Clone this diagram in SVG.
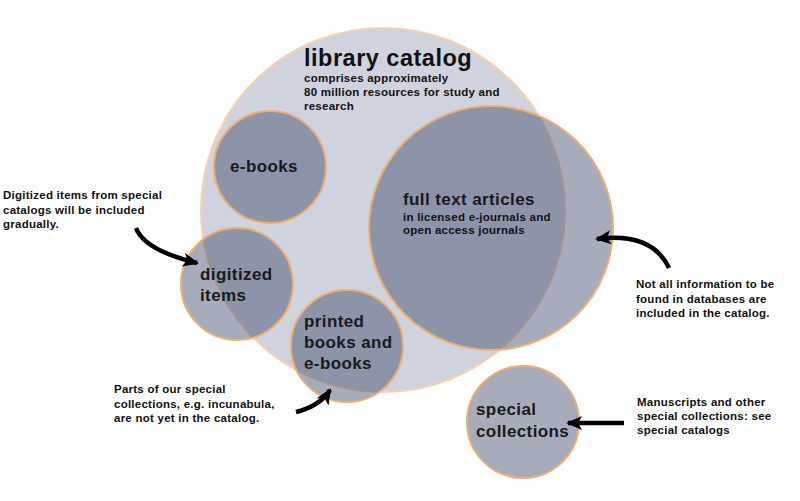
<svg xmlns="http://www.w3.org/2000/svg" width="800" height="501" viewBox="0 0 800 501">
<defs>
<style>
.big{fill:#d0d3dd;stroke:#f6d2ae;stroke-width:2}
.sub{fill:#3c4768;fill-opacity:0.45;stroke:#eeae72;stroke-width:2}
.t{font-family:"Liberation Sans",Arial,sans-serif;fill:#111}
.lab{font-size:17px;font-weight:bold;fill:#1a1a1a;letter-spacing:0.4px}
.note{font-size:11.5px;font-weight:bold;letter-spacing:0.25px}
.arr{fill:none;stroke:#000;stroke-width:4.5;stroke-linecap:butt;marker-end:url(#ah)}
</style>
<marker id="ah" markerUnits="userSpaceOnUse" markerWidth="16" markerHeight="14" refX="14" refY="7" orient="auto">
<path d="M0,0 L16,7 L0,14 L4,7 Z" fill="#000"/>
</marker>
</defs>
<rect width="800" height="501" fill="#fff"/>
<g id="library-catalog">
<circle class="big" cx="383" cy="210" r="182"/>
<text class="t" x="304" y="66" font-size="23.5" font-weight="bold" letter-spacing="0.5">library catalog</text>
<text class="t note" x="304" y="82">comprises approximately</text>
<text class="t note" x="304" y="96">80 million resources for study and</text>
<text class="t note" x="304" y="110">research</text>
</g>
<g id="e-books">
<circle class="sub" cx="270" cy="167" r="56"/>
<text class="t lab" x="230" y="172">e-books</text>
</g>
<g id="full-text-articles">
<circle class="sub" cx="491" cy="228" r="122"/>
<text class="t lab" x="403" y="205">full text articles</text>
<text class="t note" x="403" y="221">in licensed e-journals and</text>
<text class="t note" x="403" y="234">open access journals</text>
</g>
<g id="digitized-items">
<circle class="sub" cx="237" cy="284" r="56"/>
<text class="t lab" x="200" y="280">digitized</text>
<text class="t lab" x="200" y="301">items</text>
</g>
<g id="printed-books">
<circle class="sub" cx="347" cy="346" r="56"/>
<text class="t lab" x="304" y="327">printed</text>
<text class="t lab" x="304" y="348">books and</text>
<text class="t lab" x="304" y="369">e-books</text>
</g>
<g id="special-collections">
<circle class="sub" cx="523" cy="422" r="56"/>
<text class="t lab" x="476" y="415">special</text>
<text class="t lab" x="476" y="437">collections</text>
</g>
<g id="notes">
<text class="t note" x="3" y="199">Digitized items from special</text>
<text class="t note" x="3" y="214">catalogs will be included</text>
<text class="t note" x="3" y="228">gradually.</text>
<text class="t note" x="636" y="288">Not all information to be</text>
<text class="t note" x="636" y="303">found in databases are</text>
<text class="t note" x="636" y="317">included in the catalog.</text>
<text class="t note" x="114" y="393">Parts of our special</text>
<text class="t note" x="114" y="408">collections, e.g. incunabula,</text>
<text class="t note" x="114" y="422">are not yet in the catalog.</text>
<text class="t note" x="637" y="406">Manuscripts and other</text>
<text class="t note" x="637" y="420">special collections: see</text>
<text class="t note" x="637" y="434">special catalogs</text>
</g>
<g id="connectors">
<path class="arr" d="M136,228 Q144,250 197,263"/>
<path class="arr" d="M669,268 Q652,232 597,239"/>
<path class="arr" d="M296,412 Q320,406 330,390"/>
<path class="arr" d="M624,423 L568,423"/>
</g>
</svg>
